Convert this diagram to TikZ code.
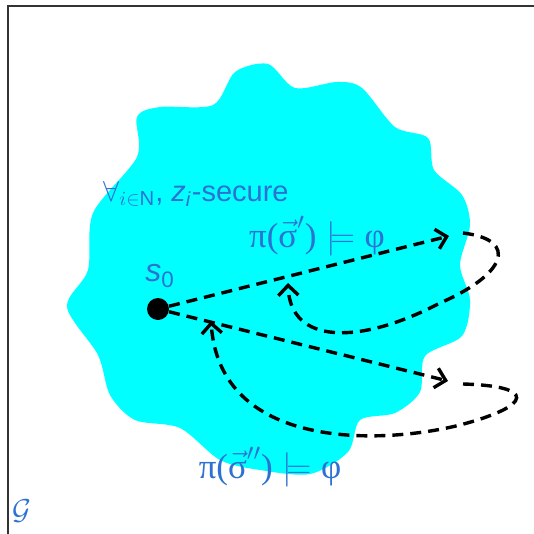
\documentclass[tikz,border=0pt]{standalone}
\usepackage{fontspec}
\setmainfont{Liberation Sans}
\newfontfamily\grkfont{Liberation Serif}
\usetikzlibrary{arrows.meta}
\definecolor{blobfill}{HTML}{00FFFF}
\definecolor{labelblue}{HTML}{2D72D2}
\definecolor{framegray}{HTML}{333333}

\begin{document}
\begin{tikzpicture}[
  x=0.5pt, y=-0.5pt,
  lbl/.style={text=labelblue, inner sep=0pt, font=\fontsize{14.5}{17}\selectfont},
  satlbl/.style={lbl, font=\fontsize{17.5}{20}\selectfont},
  flow/.style={draw=black, line width=1.7pt, dash pattern=on 5.5pt off 3.5pt,
               -{Straight Barb[length=5pt,width=10pt]}},
  state/.style={circle, fill=black, minimum size=11pt, inner sep=0pt}
]
\useasboundingbox (0,0) rectangle (534,534);
% frame of the game graph
\draw[framegray, line width=0.75pt] (8,540) -- (8,6) -- (540,6);
% secure region
\fill[blobfill] plot[smooth cycle, tension=0.5] coordinates {
  (213,105) (235,72) (268,64) (295,88) (337,82) (362,88) (395,127) (428,138)
  (434,170) (462,195) (470,225) (460,265) (470,300) (462,336) (425,356)
  (420,392) (395,413) (360,420) (348,452) (310,474) (260,470) (220,460)
  (180,428) (135,420) (110,395) (98,355) (67,307) (88,270) (93,213)
  (137,157) (137,117) (160,107)};

\node[state] (s0) at (158,309) {};
\node[lbl, font=\fontsize{16}{18}\selectfont] (s0lbl) at (160,276) {\textit{s}\textsubscript{0}};
\node[lbl] (sec) at (196,194)
  {$\forall_{i\in\mathrm{N}}$, \textit{z}\textsubscript{\textit{i}}-secure};
\node[satlbl] (sat1) at (317,236)
  {{\grkfont π(}$\vec{\hbox{\grkfont σ}}'${\grkfont )} $\models$ {\grkfont φ}};
\node[satlbl] (sat2) at (270,467)
  {{\grkfont π(}$\vec{\hbox{\grkfont σ}}''${\grkfont )} $\models$ {\grkfont φ}};
\node[lbl, font=\fontsize{14}{16}\selectfont] (game) at (22,511) {$\mathcal{G}$};

\coordinate (t1) at (449,236);
\coordinate (l1) at (463,233);
\coordinate (r1) at (288,283);
\coordinate (t2) at (448,381);
\coordinate (l2) at (463,384);
\coordinate (r2) at (211,321);

% first play and its loop back
\draw[flow] (s0) -- (t1);
\draw[flow] (l1) .. controls (520,240) and (505,275) .. (440,303)
  .. controls (360,345) and (290,345) .. (r1);
% second play and its loop back
\draw[flow] (s0) -- (t2);
\draw[flow] (l2) .. controls (535,386) and (535,405) .. (460,425)
  .. controls (380,445) and (220,450) .. (r2);
\end{tikzpicture}
\end{document}
